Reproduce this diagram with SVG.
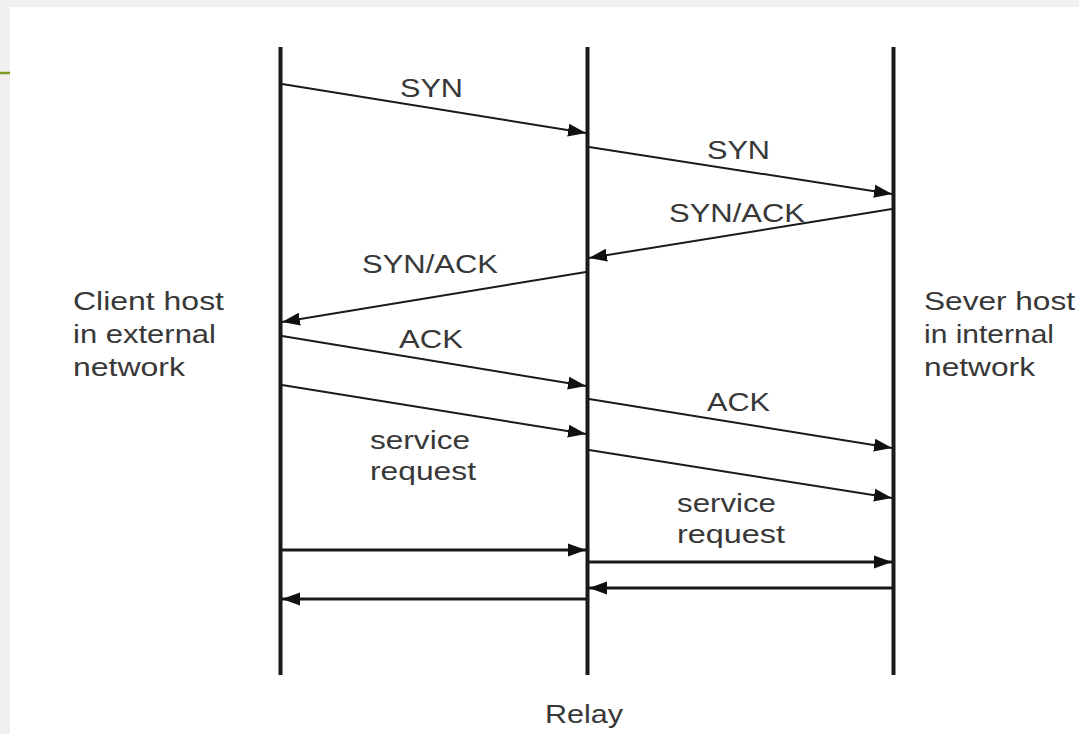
<svg xmlns="http://www.w3.org/2000/svg" width="1079" height="734" viewBox="0 0 1079 734">
<defs>
<marker id="ah" markerUnits="userSpaceOnUse" markerWidth="19" markerHeight="14" refX="18" refY="7" orient="auto">
<path d="M0,0.5 L18,7 L0,13.5 z" fill="#111"/>
</marker>
<style>
.t{font-family:"Liberation Sans",Arial,sans-serif;font-size:25px;fill:#383838}
.life{stroke:#1a1a1a;stroke-width:4;fill:none}
.msg{stroke:#1a1a1a;stroke-width:2;fill:none;marker-end:url(#ah)}
.hmsg{stroke:#1a1a1a;stroke-width:3;fill:none;marker-end:url(#ah)}
</style>
</defs>
<rect x="0" y="0" width="1079" height="734" fill="#f0f0f0"/>
<rect x="10" y="7" width="1069" height="727" fill="#ffffff"/>
<line x1="0" y1="73" x2="10" y2="73" stroke="#7f9b22" stroke-width="2.5"/>

<g id="client">
<line class="life" x1="280.5" y1="47" x2="280.5" y2="675"/>
<text class="t" x="73" y="310" textLength="151" lengthAdjust="spacingAndGlyphs">Client host</text>
<text class="t" x="73" y="343" textLength="143" lengthAdjust="spacingAndGlyphs">in external</text>
<text class="t" x="73" y="376" textLength="112" lengthAdjust="spacingAndGlyphs">network</text>
</g>
<g id="relay">
<line class="life" x1="587.5" y1="47" x2="587.5" y2="675"/>
<text class="t" x="545" y="723" textLength="78" lengthAdjust="spacingAndGlyphs">Relay</text>
</g>
<g id="server">
<line class="life" x1="893.5" y1="47" x2="893.5" y2="675"/>
<text class="t" x="924" y="310" textLength="151" lengthAdjust="spacingAndGlyphs">Sever host</text>
<text class="t" x="924" y="343" textLength="130" lengthAdjust="spacingAndGlyphs">in internal</text>
<text class="t" x="924" y="376" textLength="111" lengthAdjust="spacingAndGlyphs">network</text>
</g>

<g id="connectors">
<line class="msg" x1="282" y1="84" x2="586" y2="133"/>
<line class="msg" x1="589" y1="147" x2="892" y2="194"/>
<line class="msg" x1="892" y1="209" x2="589" y2="258"/>
<line class="msg" x1="586" y1="272" x2="282" y2="322"/>
<line class="msg" x1="282" y1="336" x2="586" y2="386"/>
<line class="msg" x1="282" y1="385" x2="586" y2="434"/>
<line class="msg" x1="589" y1="399" x2="892" y2="448"/>
<line class="msg" x1="589" y1="450" x2="892" y2="498"/>
<line class="hmsg" x1="282" y1="550" x2="586" y2="550"/>
<line class="hmsg" x1="589" y1="562" x2="892" y2="562"/>
<line class="hmsg" x1="892" y1="588" x2="589" y2="588"/>
<line class="hmsg" x1="586" y1="599" x2="282" y2="599"/>
<text class="t" x="400" y="97" textLength="63" lengthAdjust="spacingAndGlyphs">SYN</text>
<text class="t" x="707" y="159" textLength="63" lengthAdjust="spacingAndGlyphs">SYN</text>
<text class="t" x="669" y="222" textLength="136" lengthAdjust="spacingAndGlyphs">SYN/ACK</text>
<text class="t" x="362" y="273" textLength="136" lengthAdjust="spacingAndGlyphs">SYN/ACK</text>
<text class="t" x="399" y="348" textLength="64" lengthAdjust="spacingAndGlyphs">ACK</text>
<text class="t" x="370" y="449" textLength="100" lengthAdjust="spacingAndGlyphs">service</text>
<text class="t" x="370" y="480" textLength="106" lengthAdjust="spacingAndGlyphs">request</text>
<text class="t" x="707" y="411" textLength="63" lengthAdjust="spacingAndGlyphs">ACK</text>
<text class="t" x="677" y="512" textLength="99" lengthAdjust="spacingAndGlyphs">service</text>
<text class="t" x="677" y="543" textLength="108" lengthAdjust="spacingAndGlyphs">request</text>
</g>
</svg>
